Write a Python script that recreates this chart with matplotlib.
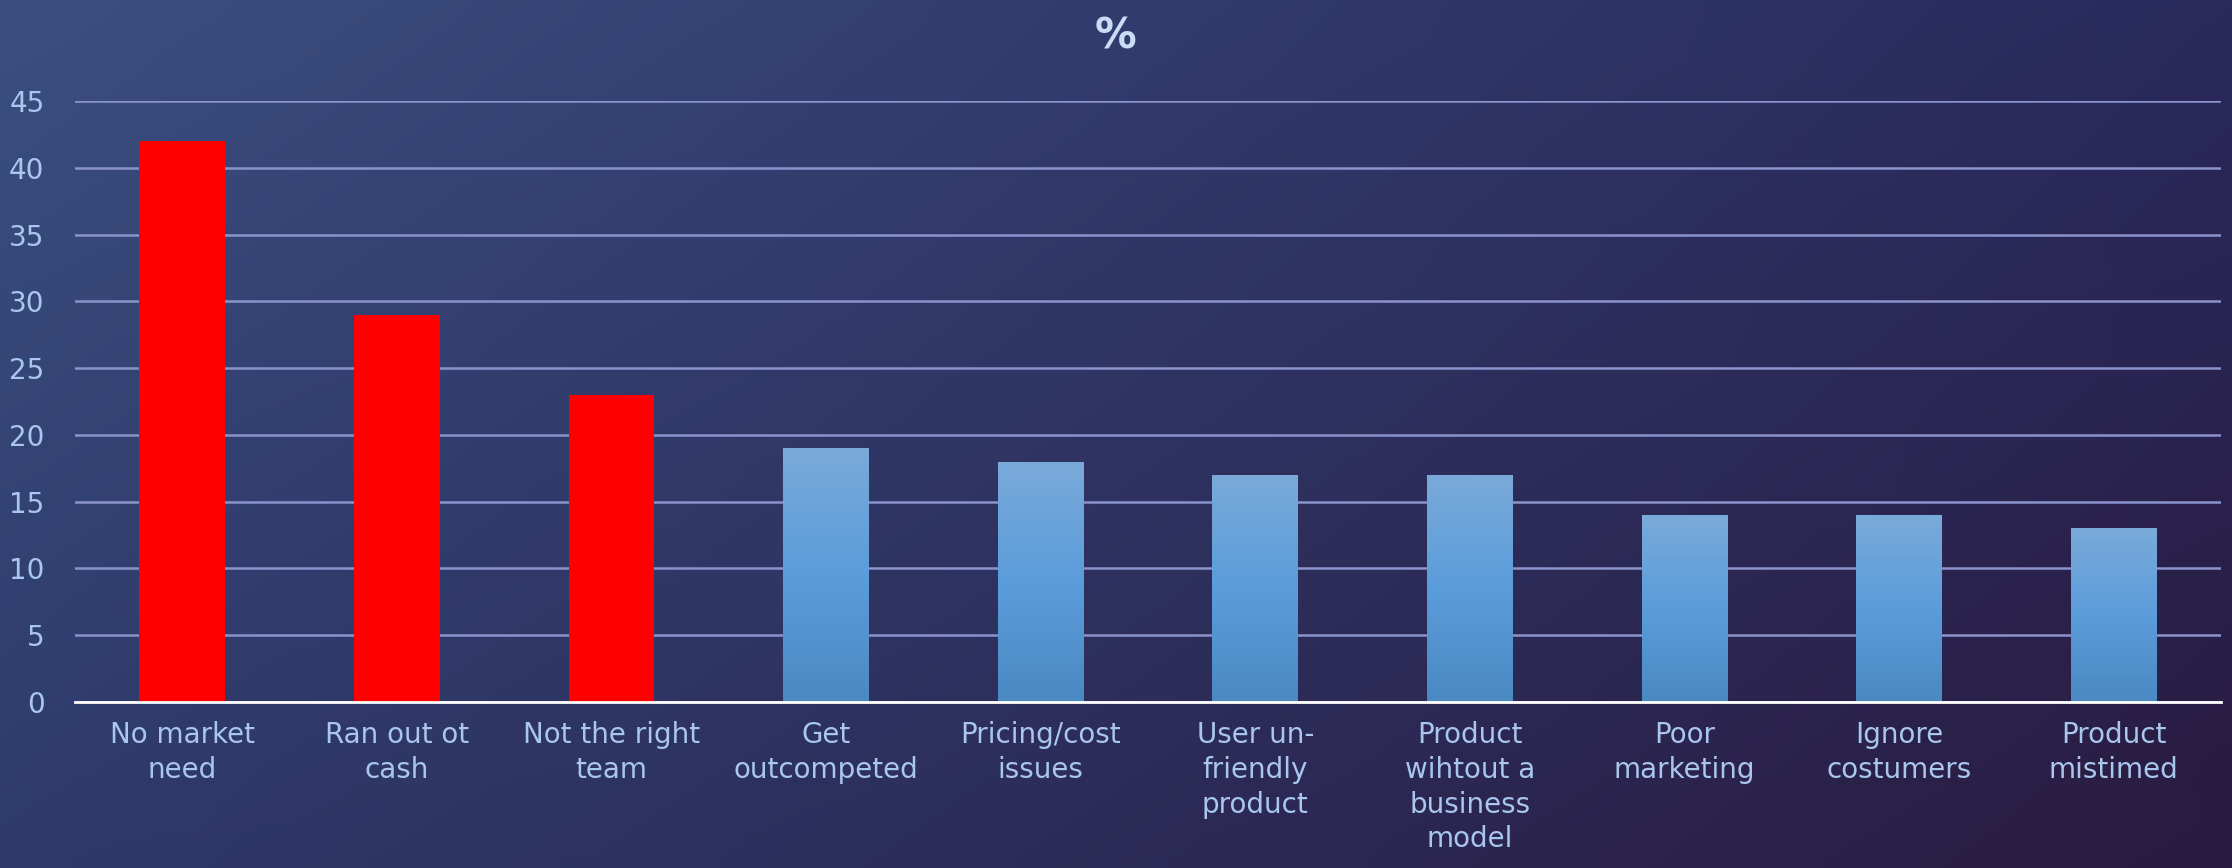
import numpy as np
import matplotlib
matplotlib.use("Agg")
import matplotlib.pyplot as plt
from matplotlib.colors import LinearSegmentedColormap, to_rgb

# data
categories = ["No market\nneed", "Ran out ot\ncash", "Not the right\nteam", "Get\noutcompeted",
              "Pricing/cost\nissues", "User un-\nfriendly\nproduct", "Product\nwihtout a\nbusiness\nmodel",
              "Poor\nmarketing", "Ignore\ncostumers", "Product\nmistimed"]
values = [42, 29, 23, 19, 18, 17, 17, 14, 14, 13]
highlight = [True, True, True, False, False, False, False, False, False, False]
yticks = [0, 5, 10, 15, 20, 25, 30, 35, 40, 45]

label_color = "#a9c6ee"
grid_color = "#8a93cc"

plt.rcParams['font.family'] = ['DejaVu Sans']
fig = plt.figure(figsize=(22.32, 8.68), dpi=100)

# background gradient
bg = fig.add_axes([0, 0, 1, 1], zorder=-10)
tl, tr = np.array(to_rgb("#3a4f80")), np.array(to_rgb("#29295c"))
bl, br = np.array(to_rgb("#2e3a6c")), np.array(to_rgb("#2a1b40"))
u = np.linspace(0, 1, 300)[None, :, None]
v = np.linspace(0, 1, 120)[:, None, None]
img = (1 - v) * ((1 - u) * tl + u * tr) + v * ((1 - u) * bl + u * br)
bg.imshow(img, aspect="auto", extent=[0, 1, 0, 1])
bg.axis("off")

ax = fig.add_axes([75 / 2232, 1 - 702 / 868, (2221 - 75) / 2232, (702 - 101) / 868])
ax.patch.set_alpha(0)

x = np.arange(len(categories))
bars = ax.bar(x, values, width=0.4, color=["#ff0000" if h else "#5b9bd5" for h in highlight], zorder=3)

# vertical gradient inside the blue bars
cmap = LinearSegmentedColormap.from_list("bar", ["#4a89c2", "#5b9cdb", "#7aaad9"])
grad = np.linspace(0, 1, 256)[:, None]
for b, h in zip(bars, highlight):
    if h:
        continue
    x0, w, hgt = b.get_x(), b.get_width(), b.get_height()
    im = ax.imshow(grad, cmap=cmap, origin="lower", aspect="auto",
                   extent=[x0, x0 + w, 0, hgt], zorder=4)
    im.set_clip_path(b)

ax.set_xlim(-0.5, len(categories) - 0.5)
ax.set_ylim(0, 45)
ax.set_yticks(yticks)
ax.yaxis.grid(True, color=grid_color, linewidth=1.8, zorder=0)
ax.set_axisbelow(True)
for s in ["top", "right", "left"]:
    ax.spines[s].set_visible(False)
ax.spines["bottom"].set_color("white")
ax.spines["bottom"].set_linewidth(2)
ax.spines["bottom"].set_zorder(5)
ax.tick_params(axis="both", length=0, colors=label_color, labelsize=20)
ax.tick_params(axis="y", pad=22)
ax.tick_params(axis="x", pad=14)
ax.set_xticks(x)
ax.set_xticklabels(categories, linespacing=1.3)

fig.text(0.5, 0.958, "%", ha="center", va="center", color="#c9dcf6", fontsize=30, fontweight="bold")

fig.savefig("out.png", dpi=100)
